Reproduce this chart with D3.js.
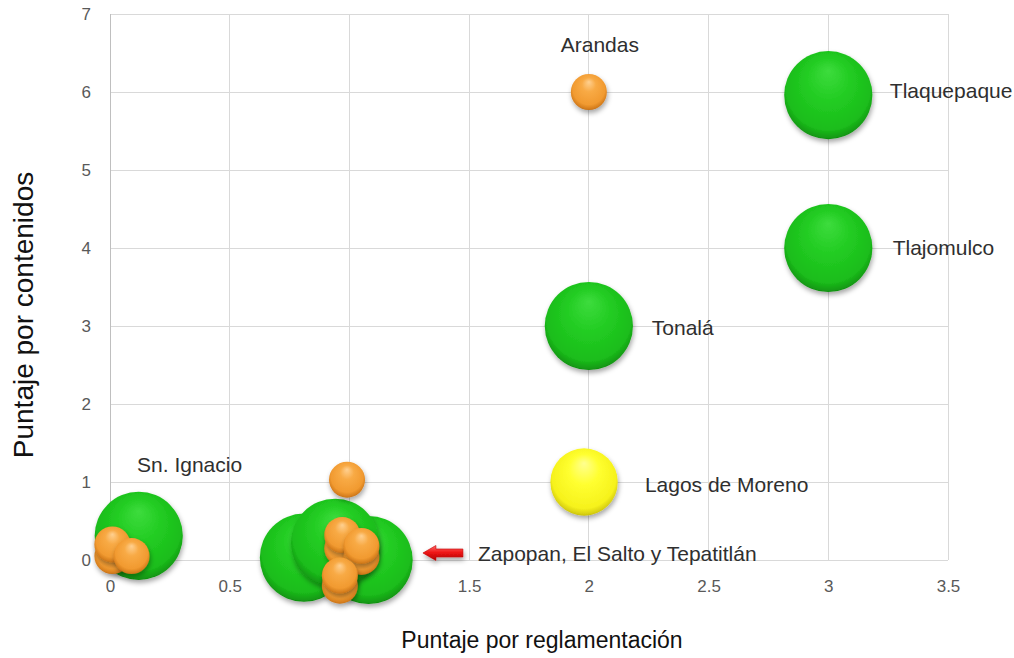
<!DOCTYPE html>
<html>
<head>
<meta charset="utf-8">
<script src="https://cdn.jsdelivr.net/npm/d3@7"></script>
<style>
  html, body { margin: 0; padding: 0; background: #fff; }
  svg { display: block; }
  text { font-family: "Liberation Sans", Arial, sans-serif; }
</style>
</head>
<body>
<svg id="chart" width="1014" height="658"></svg>
<script>
// ---------------- DATA ----------------
// bubble x (Puntaje por reglamentación)
const bubbleX = [3, 3, 2, 1.98, 2, 0.12, 0.81, 1.08, 0.94, 0.99, 0.01, 0.01, 0.09, 0.97, 0.97, 1.05, 1.05, 0.96, 0.96];
// bubble y (Puntaje por contenidos)
const bubbleY = [5.96, 4.0, 3.0, 1.0, 6.0, 0.31, 0.03, 0.0, 0.22, 1.03, 0.05, 0.2, 0.05, 0.15, 0.32, 0.04, 0.18, -0.33, -0.2];
// bubble size (area-proportional)
const bubbleSize = [6, 6, 6, 3.5, 1, 6, 6, 6, 6, 1, 1, 1, 1, 1, 1, 1, 1, 1, 1];
// colour group of each bubble
const bubbleGroup = ["green", "green", "green", "yellow", "orange", "green", "green", "green", "green", "orange",
                     "orange", "orange", "orange", "orange", "orange", "orange", "orange", "orange", "orange"];

// annotation labels (data coordinates)
const labelText = ["Arandas", "Tlaquepaque", "Tlajomulco", "Tonalá", "Lagos de Moreno", "Sn. Ignacio", "Zapopan, El Salto y Tepatitlán"];
const labelX = [2.046, 3.257, 3.269, 2.263, 2.234, 0.113, 1.537];
const labelY = [6.51, 5.92, 3.91, 2.885, 0.872, 1.128, -0.013];
const labelAnchor = ["middle", "start", "start", "start", "start", "start", "start"];

// arrow annotation (data coordinates: tip, tail, y)
const arrowTip = [1.307, 0.09];
const arrowTail = [1.474, 0.09];

const xTicks = [0, 0.5, 1, 1.5, 2, 2.5, 3, 3.5];
const yTicks = [0, 1, 2, 3, 4, 5, 6, 7];
const xTitle = "Puntaje por reglamentación";
const yTitle = "Puntaje por contenidos";

// ---------------- CHART ----------------
const svg = d3.select("#chart");
const x = d3.scaleLinear().domain([0, 3.5]).range([110, 948]);
const y = d3.scaleLinear().domain([0, 7]).range([560, 14]);
const r = d3.scaleSqrt().domain([0, 1]).range([0, 18]);

const defs = svg.append("defs");

const shadow = defs.append("filter").attr("id", "shadow")
  .attr("x", "-30%").attr("y", "-30%").attr("width", "160%").attr("height", "170%");
shadow.append("feDropShadow").attr("dx", 1).attr("dy", 3).attr("stdDeviation", 2.5)
  .attr("flood-color", "#000").attr("flood-opacity", 0.35);

const palettes = {
  green:  [["0%", "#3ddc3d"], ["45%", "#22cc22"], ["85%", "#1bbd1b"], ["96%", "#139c13"], ["100%", "#0e850e"]],
  orange: [["0%", "#ffd090"], ["35%", "#f8aa45"], ["80%", "#f19a30"], ["95%", "#d47c1c"], ["100%", "#b86a16"]],
  yellow: [["0%", "#ffff90"], ["40%", "#ffff30"], ["85%", "#f6f21c"], ["96%", "#d6ce10"], ["100%", "#bdb40c"]]
};
Object.entries(palettes).forEach(([key, stops]) => {
  const g = defs.append("radialGradient").attr("id", "grad-" + key)
    .attr("cx", "50%").attr("cy", "45%").attr("r", "56%")
    .attr("fx", "50%").attr("fy", "22%");
  stops.forEach(s => g.append("stop").attr("offset", s[0]).attr("stop-color", s[1]));
});

const arrowGrad = defs.append("linearGradient").attr("id", "grad-arrow")
  .attr("x1", 0).attr("y1", 0).attr("x2", 0).attr("y2", 1);
arrowGrad.append("stop").attr("offset", "0%").attr("stop-color", "#ff6a6a");
arrowGrad.append("stop").attr("offset", "45%").attr("stop-color", "#f01818");
arrowGrad.append("stop").attr("offset", "100%").attr("stop-color", "#b00000");

// gridlines
const grid = svg.append("g").attr("stroke", "#d9d9d9").attr("stroke-width", 1).attr("shape-rendering", "crispEdges");
grid.selectAll("line.h").data(yTicks).join("line").attr("class", "h")
  .attr("x1", x(0)).attr("x2", x(3.5)).attr("y1", d => y(d)).attr("y2", d => y(d));
grid.selectAll("line.v").data(xTicks.filter(d => d > 0)).join("line").attr("class", "v")
  .attr("x1", d => x(d)).attr("x2", d => x(d)).attr("y1", y(0)).attr("y2", y(7));
svg.append("line").attr("x1", x(0)).attr("x2", x(0)).attr("y1", y(0)).attr("y2", y(7))
  .attr("stroke", "#bfbfbf").attr("shape-rendering", "crispEdges");

// axes (labels only)
const xAxis = svg.append("g").attr("transform", `translate(0,${y(0)})`)
  .call(d3.axisBottom(x).tickValues(xTicks).tickFormat(d3.format("")).tickSize(0).tickPadding(20));
const yAxis = svg.append("g").attr("transform", `translate(${x(0)},0)`)
  .call(d3.axisLeft(y).tickValues(yTicks).tickFormat(d3.format("d")).tickSize(0).tickPadding(19));
[xAxis, yAxis].forEach(a => {
  a.select(".domain").remove();
  a.selectAll("text").attr("font-size", 17).attr("fill", "#595959")
    .attr("font-family", "'Liberation Sans', Arial, sans-serif");
});

// bubbles
const bubbles = bubbleX.map((d, i) => ({ x: d, y: bubbleY[i], s: bubbleSize[i], g: bubbleGroup[i] }));
svg.append("g").selectAll("circle").data(bubbles).join("circle")
  .attr("cx", d => x(d.x)).attr("cy", d => y(d.y)).attr("r", d => r(d.s))
  .attr("fill", d => `url(#grad-${d.g})`)
  .attr("filter", "url(#shadow)");

// labels
svg.append("g").selectAll("text").data(labelText).join("text")
  .attr("x", (d, i) => x(labelX[i])).attr("y", (d, i) => y(labelY[i]))
  .attr("text-anchor", (d, i) => labelAnchor[i])
  .attr("font-size", 21).attr("fill", "#2f2f2f")
  .text(d => d);

// arrow
const tipX = x(arrowTip[0]), tailX = x(arrowTail[0]), ay = y(arrowTip[1]);
const headLen = 13, headH = 7.5, shaftH = 4;
const arrowPath = d3.path();
arrowPath.moveTo(tipX, ay);
arrowPath.lineTo(tipX + headLen, ay - headH);
arrowPath.lineTo(tipX + headLen, ay - shaftH);
arrowPath.lineTo(tailX, ay - shaftH);
arrowPath.lineTo(tailX, ay + shaftH);
arrowPath.lineTo(tipX + headLen, ay + shaftH);
arrowPath.lineTo(tipX + headLen, ay + headH);
arrowPath.closePath();
svg.append("path").attr("d", arrowPath.toString())
  .attr("fill", "url(#grad-arrow)").attr("stroke", "#c00000").attr("stroke-width", 0.6)
  .attr("filter", "url(#shadow)");

// axis titles
svg.append("text").attr("x", 542).attr("y", 648).attr("text-anchor", "middle")
  .attr("font-size", 23).attr("fill", "#111").text(xTitle);
svg.append("text").attr("transform", "translate(33,315) rotate(-90)").attr("text-anchor", "middle")
  .attr("font-size", 28).attr("fill", "#111").text(yTitle);
</script>
</body>
</html>
